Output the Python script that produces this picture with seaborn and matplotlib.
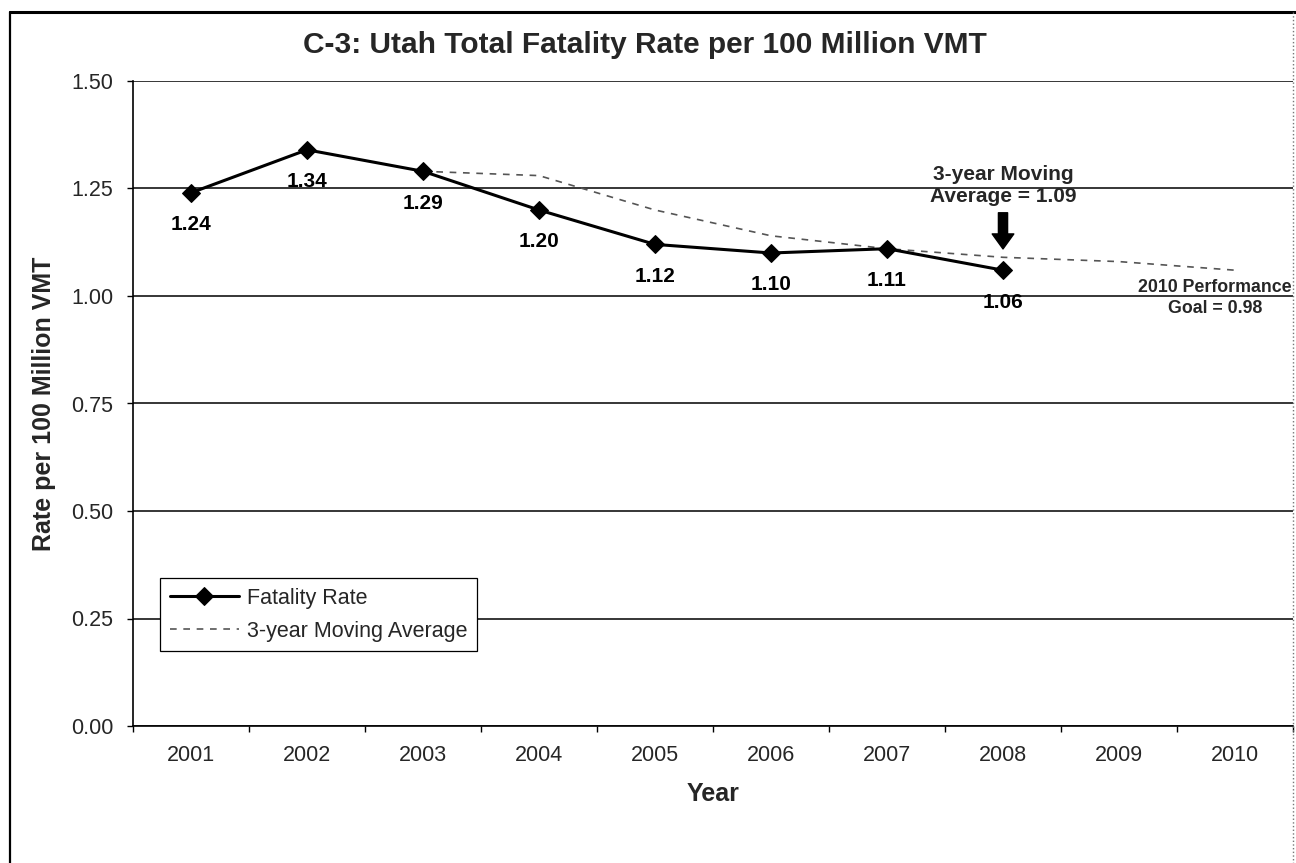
import numpy as np
import pandas as pd
import matplotlib
matplotlib.use("Agg")
import matplotlib.pyplot as plt
from matplotlib.lines import Line2D
import seaborn as sns

# ---- data ----
years = [2001, 2002, 2003, 2004, 2005, 2006, 2007, 2008]
fatality_rate = [1.24, 1.34, 1.29, 1.20, 1.12, 1.10, 1.11, 1.06]
ma_years = [2003, 2004, 2005, 2006, 2007, 2008, 2009, 2010]
moving_avg = [1.29, 1.28, 1.20, 1.14, 1.11, 1.09, 1.08, 1.06]
year_ticks = [2001, 2002, 2003, 2004, 2005, 2006, 2007, 2008, 2009, 2010]
y_ticks = [0.00, 0.25, 0.50, 0.75, 1.00, 1.25, 1.50]
title = "C-3: Utah Total Fatality Rate per 100 Million VMT"
ma_note = "3-year Moving\nAverage = 1.09"
goal_note = "2010 Performance\nGoal = 0.98"

sns.set_theme(style="white")
plt.rcParams["font.family"] = ["Liberation Sans", "DejaVu Sans"]

W, H = 1296, 863
fig = plt.figure(figsize=(W / 100, H / 100), dpi=100)
fig.patch.set_facecolor("white")
L, R, T, B = 133, 1293, 81, 726
ax = fig.add_axes([L / W, (H - B) / H, (R - L) / W, (B - T) / H])

df_rate = pd.DataFrame({"Year": years, "Rate": fatality_rate})
df_ma = pd.DataFrame({"Year": ma_years, "Rate": moving_avg})

sns.lineplot(data=df_rate, x="Year", y="Rate", ax=ax, color="black", lw=2.2,
             marker="D", markersize=9, markeredgecolor="black",
             label="Fatality Rate", zorder=5)
sns.lineplot(data=df_ma, x="Year", y="Rate", ax=ax, color="#555555", lw=1.2,
             label="3-year Moving Average", zorder=4)
ax.lines[-1].set_dashes((4, 4))

ax.set_xlim(2000.5, 2010.5)
ax.set_ylim(0, 1.5)
ax.set_yticks(y_ticks)
ax.set_yticklabels([f"{v:.2f}" for v in y_ticks], fontsize=15.5)
ax.set_xticks(year_ticks)
ax.set_xticklabels([str(y) for y in year_ticks], fontsize=15.5)
ax.set_xticks(np.arange(2000.5, 2011, 1), minor=True)
ax.tick_params(axis="x", which="major", length=0, pad=14)
ax.tick_params(axis="x", which="minor", length=4, width=1, color="black",
               direction="out", bottom=True)
ax.tick_params(axis="y", which="major", length=4, width=1, color="black",
               direction="out", left=True, pad=10)

ax.grid(axis="y", color="black", lw=1.1)
ax.grid(axis="x", visible=False)
ax.set_axisbelow(True)
for s in ["top", "right"]:
    ax.spines[s].set_visible(False)
for s in ["left", "bottom"]:
    ax.spines[s].set_color("black")
    ax.spines[s].set_linewidth(1.2)

ax.set_xlabel("Year", fontsize=18, fontweight="bold", labelpad=11)
ax.set_ylabel("Rate per 100 Million VMT", fontsize=18, fontweight="bold",
              labelpad=11)

# data labels
for x, y in zip(years, fatality_rate):
    ax.annotate(f"{y:.2f}", (x, y), xytext=(0, -23), textcoords="offset points",
                ha="center", va="center", fontsize=15, fontweight="bold",
                color="black", zorder=6)

ax.text(2008, 1.258, ma_note, ha="center", va="center", fontsize=15,
        fontweight="bold", linespacing=1.2)
ax.annotate("", xy=(2008, 1.103), xytext=(2008, 1.20),
            arrowprops=dict(arrowstyle="simple,head_width=1.3,head_length=0.9,tail_width=0.55",
                            color="black"))
ax.text(2009.83, 0.995, goal_note, ha="center", va="center", fontsize=12.8,
        fontweight="bold", linespacing=1.35, clip_on=False)

fig.text(645 / W, 1 - 45 / H, title, ha="center", va="center",
         fontsize=21.5, fontweight="bold")

leg = ax.legend(loc="upper left", bbox_to_anchor=(0.0233, 0.2295), fontsize=15.5,
                frameon=True, fancybox=False, framealpha=1, edgecolor="black",
                handlelength=3.2, handletextpad=0.4, borderpad=0.45,
                labelspacing=0.55, borderaxespad=0)
leg.get_frame().set_linewidth(0.9)
leg.set_zorder(10)
for h in leg.legend_handles:
    if h.get_label().startswith("3"):
        h.set_dashes((4, 4))

# chart border
fig.add_artist(Line2D([10 / W, 1296 / W], [1 - 12 / H, 1 - 12 / H], color="black", lw=2.2))
fig.add_artist(Line2D([10 / W, 10 / W], [1 - 12 / H, 0], color="black", lw=1.6))
fig.add_artist(Line2D([1293 / W, 1293 / W], [1 - 12 / H, 0], color="#777777", lw=1, ls=":"))

fig.savefig("out.png", dpi=100, facecolor="white")
